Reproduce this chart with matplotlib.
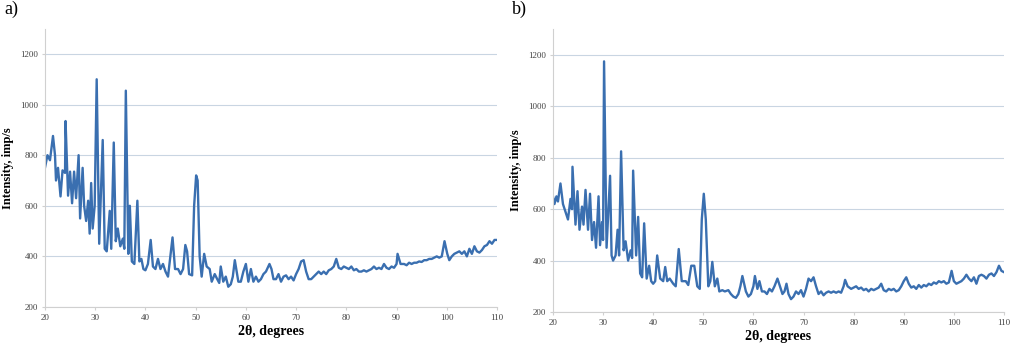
import matplotlib.pyplot as plt

plt.rcParams['font.family'] = ['Liberation Serif', 'DejaVu Serif']

# panel a) diffraction pattern
xa = [20, 20.5, 21, 21.6, 22, 22.2, 22.6, 23.1, 23.5, 24, 24.1, 24.6, 25, 25.4, 25.8, 26.2,
      26.7, 27.0, 27.5, 27.8, 28.2, 28.6, 28.9, 29.2, 29.5, 29.9, 30.3, 30.8, 31.5, 31.9,
      32.3, 32.9, 33.2, 33.7, 34.1, 34.5, 35, 35.5, 35.8, 36.1, 36.6, 36.9, 37.3, 37.8,
      38.4, 38.8, 39.2, 39.6, 40, 40.5, 41.05, 41.5, 42, 42.5, 43, 43.5, 44, 44.5, 45.4,
      45.9, 46.5, 47, 47.5, 47.95, 48.3, 48.7, 49.3, 49.7, 50.1, 50.4, 50.8, 51.2, 51.7,
      52.2, 52.8, 53.2, 53.8, 54.3, 54.7, 55, 55.5, 56, 56.5, 57, 57.4, 57.8, 58.5, 59,
      59.5, 60, 60.5, 61, 61.5, 62, 62.5, 63, 63.5, 64, 64.7, 65.1, 65.5, 66, 66.5, 67,
      67.5, 68, 68.5, 69, 69.5, 70, 70.5, 71, 71.5, 72, 72.5, 73, 73.5, 74, 74.5, 75, 75.5,
      76, 76.5, 77, 77.5, 78, 78.5, 79, 79.5, 80, 80.5, 81, 81.5, 82, 82.5, 83, 83.5, 84,
      84.5, 85, 85.5, 86, 86.5, 87, 87.5, 88, 88.5, 89, 89.5, 90, 90.2, 90.8, 91.5, 92,
      92.5, 93, 93.5, 94, 94.5, 95, 95.5, 96, 96.5, 97, 97.5, 98, 98.5, 99, 99.55, 100.1,
      100.5, 101, 101.5, 102, 102.5, 103, 103.5, 104, 104.5, 105, 105.5, 106, 106.5, 107,
      107.5, 108, 108.5, 109, 109.5, 110]
ya = [750, 800, 780, 876, 800, 700, 750, 637, 740, 730, 935, 640, 735, 610, 735, 630,
      800, 550, 750, 600, 540, 620, 490, 690, 510, 600, 1100, 450, 860, 430,
      420, 580, 430, 850, 460, 510, 440, 470, 430, 1055, 410, 600, 380, 370,
      620, 380, 390, 350, 345, 370, 465, 360, 350, 390, 350, 370, 340, 320, 475,
      350, 350, 330, 350, 445, 420, 330, 325, 600, 720, 700, 400, 320, 410,
      360, 350, 300, 330, 310, 295, 360, 300, 320, 280, 290, 320, 385, 300, 300,
      340, 370, 300, 350, 300, 320, 300, 310, 330, 340, 370, 350, 310, 310, 330, 300,
      320, 325, 310, 320, 305, 330, 350, 380, 385, 340, 310, 310, 320, 330, 340, 330, 340,
      330, 345, 350, 360, 390, 355, 350, 360, 355, 350, 360, 345, 350, 340, 340, 345, 340,
      345, 350, 360, 350, 355, 350, 370, 355, 350, 360, 355, 370, 410, 370, 370, 365,
      375, 370, 375, 375, 380, 378, 385, 385, 390, 390, 395, 400, 395, 400, 460, 410,
      385, 400, 410, 415, 420, 410, 420, 400, 430, 410, 440, 420, 415, 425,
      440, 445, 460, 450, 465, 465]

# panel b) diffraction pattern
xb = [20, 20.3, 20.7, 21, 21.5, 21.8, 22, 22.5, 23, 23.5, 23.8, 23.9, 24.5, 24.9, 25.3,
      25.8, 26.1, 26.5, 27, 27.4, 27.8, 28.2, 28.6, 29.1, 29.4, 29.8, 30.0, 30.2, 30.7,
      31.4, 31.7, 32, 32.5, 32.9, 33.2, 33.6, 34.1, 34.5, 35, 35.5, 35.8, 36.0, 36.6, 37.0,
      37.4, 37.8, 38.2, 38.7, 39.2, 39.6, 40, 40.4, 40.8, 41.4, 42, 42.4, 42.8, 43.3, 44,
      44.5, 45.1, 45.7, 46.5, 47, 47.6, 48.2, 48.8, 49.3, 49.7, 50.1, 50.5, 51, 51.4, 51.8,
      52.3, 52.8, 53.2, 53.8, 54.3, 55, 55.5, 56, 56.5, 57, 57.4, 57.8, 58.5, 59, 59.5, 60,
      60.3, 60.8, 61.2, 61.7, 62.2, 62.7, 63.2, 63.7, 64.2, 64.8, 65.3, 65.8, 66.2, 66.6,
      67, 67.5, 68, 68.5, 69, 69.5, 70, 70.5, 71, 71.5, 72, 72.5, 73, 73.5, 74, 74.5, 75,
      75.5, 76, 76.5, 77, 77.5, 78, 78.3, 78.8, 79.5, 80, 80.5, 81, 81.5, 82, 82.5, 83,
      83.5, 84, 84.5, 85, 85.5, 86, 86.5, 87, 87.5, 88, 88.5, 89, 89.5, 90, 90.5, 91, 91.5,
      92, 92.5, 93, 93.5, 94, 94.5, 95, 95.5, 96, 96.5, 97, 97.5, 98, 98.5, 99, 99.55, 100,
      100.5, 101, 101.5, 102, 102.5, 103, 103.5, 104, 104.5, 105, 105.5, 106, 106.5, 107,
      107.5, 108, 108.5, 109, 109.5, 110]
yb = [650, 620, 650, 630, 700, 650, 620, 590, 560, 640, 600, 765, 540, 670, 520,
      610, 540, 675, 520, 660, 480, 550, 450, 650, 460, 550, 480, 1175, 450,
      730, 420, 400, 420, 520, 420, 825, 440, 475, 400, 440, 410, 750, 420, 570,
      350, 335, 545, 330, 380, 320, 310, 320, 420, 330, 320, 375, 320, 330, 310,
      300, 445, 320, 320, 305, 380, 380, 300, 290, 560, 660, 560, 300, 320, 395,
      300, 330, 280, 285, 280, 285, 270, 260, 255, 270, 300, 340, 280, 260, 270, 300,
      340, 290, 320, 280, 280, 270, 290, 280, 300, 330, 300, 270, 280, 310,
      270, 250, 260, 280, 270, 285, 260, 290, 330, 320, 335, 300, 270, 280, 265, 275, 280,
      275, 280, 275, 280, 275, 300, 325, 300, 290, 295, 300, 290, 295, 285, 290, 280,
      290, 285, 290, 295, 310, 285, 280, 290, 285, 290, 280, 285, 300, 320, 335, 310, 295,
      300, 290, 305, 295, 305, 300, 310, 305, 315, 310, 320, 315, 320, 310, 315, 360, 320,
      310, 315, 320, 330, 345, 330, 320, 335, 310, 340, 345, 340, 330, 345,
      350, 340, 355, 380, 360, 355]

yticks = [200, 400, 600, 800, 1000, 1200]
xticks = [20, 30, 40, 50, 60, 70, 80, 90, 100, 110]

fig = plt.figure(figsize=(10.17, 3.44), dpi=100)
axa = fig.add_axes([0.0442, 0.1076, 0.4445, 0.809])
axb = fig.add_axes([0.5437, 0.093, 0.4435, 0.822])

for ax, x, y, tag in [(axa, xa, ya, 'a)'), (axb, xb, yb, 'b)')]:
    ax.plot(x, y, color='#3a6fb0', lw=1.7)
    ax.set_xlim(20, 110)
    ax.set_ylim(200, 1300)
    ax.set_xticks(xticks)
    ax.set_yticks(yticks)
    ax.grid(axis='y', color='#c9d5e2', lw=0.8)
    ax.set_axisbelow(True)
    for s in ['top', 'right']:
        ax.spines[s].set_visible(False)
    for s in ['left', 'bottom']:
        ax.spines[s].set_color('#d0d0d0')
        ax.spines[s].set_linewidth(0.8)
    ax.tick_params(labelsize=6.5, labelcolor='#444444', color='#d0d0d0', length=2, pad=3)
    ax.set_xlabel('2θ, degrees', fontsize=10, fontweight='bold', labelpad=2)
    ax.set_ylabel('Intensity, imp/s', fontsize=9, fontweight='bold', labelpad=4)
    ax.text(-0.09, 1.10, tag, transform=ax.transAxes, fontsize=13, va='top', ha='left')

fig.savefig('out.png', dpi=100)
